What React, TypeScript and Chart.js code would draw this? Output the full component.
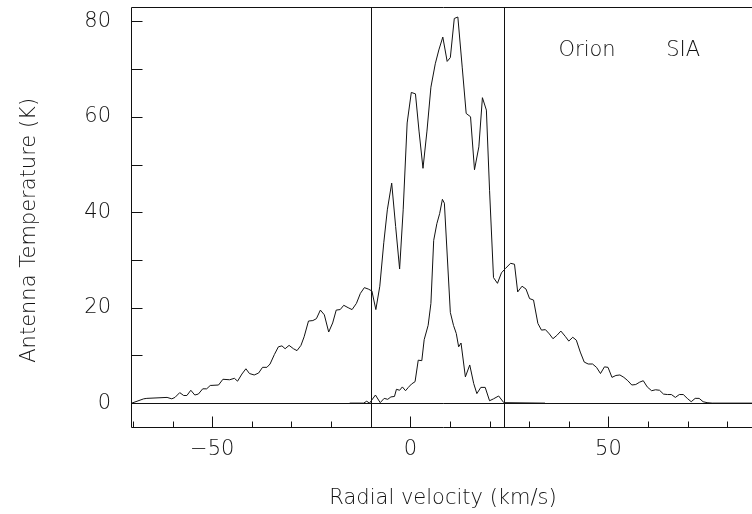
import React, { useEffect, useRef } from 'react';
import { Chart, registerables } from 'chart.js';

Chart.register(...registerables);

// Broad profile (km/s, K)
const broadVelocity = [
  -70.3, -67.3, -66.5, -61.4, -60.2, -59.4, -58.2, -57.2, -56.4, -55.4, -54.4, -53.5, -52.4, -51.4,
  -50.5, -48.4, -47.3, -45.6, -44.4, -43.6, -42.5, -41.5, -40.6, -39.4, -38.3, -37.3, -36.2, -35.4,
  -34.3, -33.3, -32.4, -31.6, -30.6, -29.5, -28.6, -27.6, -26.8, -25.7, -24.6, -23.7, -22.7, -21.7,
  -20.6, -19.6, -18.7, -17.7, -16.8, -15.7, -14.7, -13.6, -12.6, -11.6, -10.6, -9.7, -8.7, -7.7,
  -6.7, -5.8, -4.7, -3.7, -2.7, -1.8, -0.8, 0.25, 1.3, 2.2, 3.2, 4.2, 5.2, 6.3, 7.2, 8.2, 9.3, 10.1,
  11.1, 12.0, 13.1, 14.1, 15.2, 16.2, 17.3, 18.2, 19.2, 20.0, 21.0, 22.0, 23.0, 24.0, 25.3, 26.3,
  27.1, 28.2, 29.2, 30.1, 31.1, 32.2, 33.1, 34.1, 35.1, 36.0, 37.0, 38.0, 39.1, 40.0, 41.0, 41.9,
  42.9, 43.9, 44.9, 46.0, 47.0, 48.0, 49.0, 49.9, 50.9, 51.9, 52.9, 53.9, 54.9, 55.9, 56.9, 57.9,
  58.8, 59.8, 60.9, 61.9, 62.9, 63.9, 64.9, 65.9, 66.9, 67.9, 68.9, 69.9, 70.9, 71.9, 72.9, 73.9,
  74.9, 76.2, 87.0,
];
const broadTemperature = [
  0.0, 0.9, 1.0, 1.2, 0.9, 1.2, 2.2, 1.6, 1.6, 2.7, 1.7, 1.9, 3.0, 3.0,
  3.7, 3.8, 5.0, 4.9, 5.2, 4.6, 6.1, 7.2, 6.2, 5.9, 6.3, 7.5, 7.5, 8.2,
  10.2, 11.8, 12.0, 11.4, 12.1, 11.4, 11.0, 12.1, 13.9, 17.2, 17.3, 17.7, 19.5, 18.5,
  14.9, 16.8, 19.5, 19.6, 20.5, 20.0, 19.6, 20.9, 23.0, 24.2, 23.9, 23.5, 19.6, 24.5,
  33.6, 40.5, 46.1, 37.0, 28.1, 40.5, 58.7, 65.1, 64.8, 57.0, 49.2, 57.0, 66.2, 71.1, 74.0, 76.7, 71.6, 72.4,
  80.6, 80.9, 70.4, 60.7, 60.0, 48.9, 53.7, 64.0, 61.4, 44.6, 26.3, 25.1, 27.3, 28.2, 29.3, 29.1,
  23.3, 24.5, 23.9, 21.9, 21.6, 16.7, 15.3, 15.4, 14.5, 13.5, 14.2, 15.1, 14.0, 13.0, 13.8, 13.2,
  10.7, 8.6, 8.2, 8.2, 7.5, 6.2, 7.6, 7.5, 5.4, 5.8, 5.9, 5.4, 4.7, 3.8, 3.9, 4.4,
  4.7, 3.4, 2.6, 2.8, 2.7, 1.9, 1.8, 1.8, 1.2, 1.8, 1.8, 1.0, 0.3, 1.0, 1.0, 0.3,
  0.1, 0.0, 0.0,
];

// Narrow profile (km/s, K)
const narrowVelocity = [
  -15.3, -11.8, -11.0, -10.3, -8.8, -7.6, -6.6, -5.7, -4.9, -4.0, -3.5, -2.7, -2.0, -1.2, -0.5,
  0.3, 1.2, 2.0, 2.9, 3.5, 4.5, 5.2, 5.9, 6.7, 7.4, 8.1, 8.6, 10.1, 10.9, 11.6, 12.2, 12.8,
  13.9, 15.0, 16.0, 16.8, 17.8, 18.9, 20.0, 21.0, 22.3, 23.6, 34.0,
];
const narrowTemperature = [
  0.0, 0.0, 0.4, 0.0, 1.7, 0.1, 1.0, 0.8, 1.3, 1.4, 2.9, 2.7, 3.4, 2.6, 3.3,
  4.0, 4.5, 9.0, 8.9, 13.3, 16.3, 20.9, 34.1, 37.6, 39.7, 42.7, 41.9, 19.0, 16.3, 14.6, 11.8, 12.6,
  5.5, 8.0, 4.1, 2.0, 3.3, 3.3, 0.5, 0.9, 1.5, 0.1, 0.0,
];

const xTickLabels = [-50, 0, 50];
const xMinorTicks = [-70, -60, -50, -40, -30, -20, -10, 0, 10, 20, 30, 40, 50, 60, 70, 80];
const yTickLabels = [0, 20, 40, 60, 80];
const yMinorTicks = [0, 10, 20, 30, 40, 50, 60, 70, 80];
const markerVelocities = [-10, 23.7];
const sourceNames = ['Orion', 'SIA'];
const sourceNameVelocities = [37.4, 64.6];
const sourceNameTemperature = 72.7;

const X_MIN = -70.5;
const X_MAX = 87;
const Y_MIN = -5;
const Y_MAX = 83;

const FAMILY = '"DejaVu Sans", sans-serif';
const INK = '#111';

export default function App() {
  const ref = useRef<HTMLCanvasElement | null>(null);

  useEffect(() => {
    const canvas = ref.current;
    if (!canvas) return;

    const framePlugin = {
      id: 'frame',
      afterDatasetsDraw(chart: any) {
        const { ctx, chartArea } = chart;
        const xs = chart.scales.x;
        const ys = chart.scales.y;
        const { left, right, top, bottom } = chartArea;
        const snap = (v: number) => Math.round(v) + 0.5;
        ctx.save();
        ctx.strokeStyle = INK;
        ctx.lineWidth = 1;
        ctx.beginPath();
        // frame
        ctx.rect(snap(left), snap(top), Math.round(right - left), Math.round(bottom - top));
        // y ticks (inward)
        yMinorTicks.forEach((v) => {
          const py = snap(ys.getPixelForValue(v));
          ctx.moveTo(snap(left), py);
          ctx.lineTo(snap(left) + 11, py);
        });
        // x ticks (inward)
        xMinorTicks.forEach((v) => {
          const px = snap(xs.getPixelForValue(v));
          const len = v % 50 === 0 ? 11 : 6;
          ctx.moveTo(px, snap(bottom));
          ctx.lineTo(px, snap(bottom) - len);
        });
        // zero line
        const p0 = snap(ys.getPixelForValue(0));
        ctx.moveTo(snap(left), p0);
        ctx.lineTo(right, p0);
        // marker lines
        markerVelocities.forEach((v) => {
          const px = snap(xs.getPixelForValue(v));
          ctx.moveTo(px, snap(top));
          ctx.lineTo(px, snap(bottom));
        });
        ctx.stroke();
        // source labels
        ctx.fillStyle = INK;
        ctx.font = `200 21px ${FAMILY}`;
        ctx.textAlign = 'left';
        ctx.textBaseline = 'alphabetic';
        sourceNames.forEach((name, i) => {
          ctx.fillText(
            name,
            xs.getPixelForValue(sourceNameVelocities[i]),
            ys.getPixelForValue(sourceNameTemperature)
          );
        });
        ctx.restore();
      },
    };

    const tickFont = { family: FAMILY, size: 21, weight: '200' as any, lineHeight: 1.2 };

    const chart = new Chart(canvas, {
      type: 'line',
      data: {
        datasets: [
          {
            label: 'Broad',
            data: broadVelocity.map((x, i) => ({ x, y: broadTemperature[i] })),
            borderColor: INK,
            borderWidth: 1,
            pointRadius: 0,
            tension: 0,
            fill: false,
          },
          {
            label: 'Narrow',
            data: narrowVelocity.map((x, i) => ({ x, y: narrowTemperature[i] })),
            borderColor: INK,
            borderWidth: 1,
            pointRadius: 0,
            tension: 0,
            fill: false,
          },
        ],
      },
      options: {
        responsive: false,
        animation: false,
        maintainAspectRatio: false,
        layout: { padding: { top: 7, right: 5, left: 0, bottom: 0 } },
        plugins: {
          legend: { display: false },
          tooltip: { enabled: false },
        },
        scales: {
          x: {
            type: 'linear',
            min: X_MIN,
            max: X_MAX,
            afterBuildTicks: (s: any) => {
              s.ticks = xTickLabels.map((value) => ({ value }));
            },
            afterFit: (s: any) => {
              s.height = 87;
              s.paddingLeft = 0;
              s.paddingRight = 0;
            },
            ticks: {
              font: tickFont,
              color: INK,
              padding: 10,
              maxRotation: 0,
              autoSkip: false,
              callback: (v: any) => (Number(v) < 0 ? '\u2212' + Math.abs(Number(v)) : String(v)),
            },
            grid: { display: false, drawTicks: false },
            border: { display: false },
            title: {
              display: true,
              text: 'Radial velocity (km/s)',
              color: INK,
              font: { family: FAMILY, size: 21, weight: '200' as any, lineHeight: 1.2 },
              padding: { top: 0, bottom: 3 },
            },
          },
          y: {
            type: 'linear',
            min: Y_MIN,
            max: Y_MAX,
            afterBuildTicks: (s: any) => {
              s.ticks = yTickLabels.map((value) => ({ value }));
            },
            afterFit: (s: any) => {
              s.width = 131;
              s.paddingTop = 0;
              s.paddingBottom = 0;
            },
            ticks: {
              font: tickFont,
              color: INK,
              padding: 20,
              autoSkip: false,
            },
            grid: { display: false, drawTicks: false },
            border: { display: false },
            title: {
              display: true,
              text: 'Antenna Temperature (K)    ',
              color: INK,
              font: { family: FAMILY, size: 21, weight: '200' as any, lineHeight: 1.2 },
              padding: { top: 17, bottom: 0 },
            },
          },
        },
      },
      plugins: [framePlugin],
    });

    return () => chart.destroy();
  }, []);

  return (
    <div style={{ position: 'fixed', left: 0, top: 0, width: 760, height: 514, background: '#fff' }}>
      <canvas ref={ref} width={760} height={514} style={{ display: 'block' }} />
    </div>
  );
}
